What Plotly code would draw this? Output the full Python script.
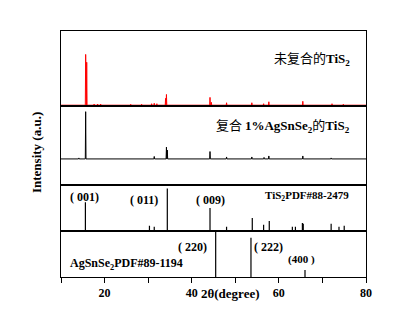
import plotly.graph_objects as go
from plotly.subplots import make_subplots

# ---- data ----
pure_pos = [15.66, 15.9, 17.6, 18.4, 19.1, 26.0, 28.5, 30.8, 31.4, 32.0, 34.0, 34.2, 44.2, 44.5, 48.0, 53.8, 56.5, 57.7, 65.5, 72.2, 74.8]
pure_int = [52, 44, 1.2, 1.2, 1.2, 1.0, 1.0, 1.5, 2.0, 1.5, 7, 11, 8, 3, 2.5, 2.5, 1.5, 3.5, 4, 1.5, 1.0]

comp_pos = [14.1, 15.66, 31.4, 34.2, 34.4, 44.2, 48.0, 53.8, 56.6, 57.7, 65.5, 72.0]
comp_int = [1.0, 48, 2.5, 12, 9, 7.5, 2, 2, 1.5, 3, 3, 1]

tis2_pos = [15.6, 30.3, 31.4, 34.4, 44.2, 48.0, 53.9, 56.5, 57.8, 63.1, 63.8, 65.4, 65.6, 72.0, 73.8, 75.0]
tis2_int = [29, 5, 4, 43, 23, 4, 13, 6, 10, 4, 4, 8, 7, 7, 4, 5]

agsnse2_pos = [45.5, 53.6, 66.0]
agsnse2_int = [47, 40, 7]

xtick_vals = [10, 20, 30, 40, 50, 60, 70, 80]
xtick_text = ["", "20", "", "40", "", "60", "", "80"]

HW = 0.08  # peak half width (deg)


def profile(pos, inten, xmin=10, xmax=80):
    pts = sorted(zip(pos, inten))
    xs, ys = [xmin], [0]
    for p, h in pts:
        xs += [p - HW, p, p + HW]
        ys += [0, h, 0]
    xs.append(xmax)
    ys.append(0)
    return xs, ys


def sticks(pos, inten):
    xs, ys = [], []
    for p, h in zip(pos, inten):
        xs += [p, p, None]
        ys += [0, h, None]
    return xs, ys


fig = make_subplots(rows=4, cols=1, shared_xaxes=True, vertical_spacing=0,
                    row_heights=[76, 80, 47, 47])

x1, y1 = profile(pure_pos, pure_int)
fig.add_trace(go.Scatter(x=x1, y=y1, mode="lines", line=dict(color="#ff0000", width=1),
                         showlegend=False), row=1, col=1)
x2, y2 = profile(comp_pos, comp_int)
fig.add_trace(go.Scatter(x=x2, y=y2, mode="lines", line=dict(color="black", width=1),
                         showlegend=False), row=2, col=1)
x3, y3 = sticks(tis2_pos, tis2_int)
fig.add_trace(go.Scatter(x=x3, y=y3, mode="lines", line=dict(color="black", width=1.2),
                         showlegend=False), row=3, col=1)
x4, y4 = sticks(agsnse2_pos, agsnse2_int)
fig.add_trace(go.Scatter(x=x4, y=y4, mode="lines", line=dict(color="black", width=1.2),
                         showlegend=False), row=4, col=1)

yranges = [[-0.6, 76], [-26, 54], [0, 47], [0, 47]]
for i in range(1, 5):
    fig.update_yaxes(range=yranges[i - 1], showticklabels=False, ticks="", showgrid=False,
                     zeroline=False, showline=True, mirror=True, linecolor="black",
                     linewidth=1, row=i, col=1)
    fig.update_xaxes(range=[10, 80], showgrid=False, zeroline=False, showline=True,
                     mirror=True, linecolor="black", linewidth=1,
                     ticks="", showticklabels=False, row=i, col=1)

fig.update_xaxes(ticks="outside", ticklen=5, tickwidth=1, tickcolor="black",
                 tickvals=xtick_vals, ticktext=xtick_text, showticklabels=True,
                 tickfont=dict(family="Liberation Serif", size=12, color="black", weight="bold"),
                 row=4, col=1)

serif = "Liberation Serif"
cjk = "Noto Sans CJK SC"
SP = '<span style="font-family:Liberation Serif">'


def py(ypx):
    return (281 - ypx) / 250.0


anns = [
    dict(x=76.9, y=py(58), xanchor="right",
         text="未复合的" + SP + "<b>TiS<sub>2</sub></b></span>",
         font=dict(family=cjk, size=13, color="black")),
    dict(x=76.9, y=py(127), xanchor="right",
         text="复合 " + SP + "<b>1%AgSnSe<sub>2</sub></b></span>的" + SP + "<b>TiS<sub>2</sub></b></span>",
         font=dict(family=cjk, size=13, color="black")),
    dict(x=15.5, y=py(200), xanchor="center", text="<b>( 001)</b>",
         font=dict(family=serif, size=12, color="black")),
    dict(x=29.0, y=py(203), xanchor="center", text="<b>( 011)</b>",
         font=dict(family=serif, size=12, color="black")),
    dict(x=44.4, y=py(203), xanchor="center", text="<b>( 009)</b>",
         font=dict(family=serif, size=12, color="black")),
    dict(x=66.5, y=py(199), xanchor="center", text="<b>TiS<sub>2</sub>PDF#88-2479</b>",
         font=dict(family=serif, size=11, color="black")),
    dict(x=40.2, y=py(251), xanchor="center", text="<b>( 220)</b>",
         font=dict(family=serif, size=12, color="black")),
    dict(x=57.6, y=py(251), xanchor="center", text="<b>( 222)</b>",
         font=dict(family=serif, size=12, color="black")),
    dict(x=65.1, y=py(263), xanchor="center", text="<b>(400 )</b>",
         font=dict(family=serif, size=11, color="black")),
    dict(x=11.5, y=py(268), xanchor="left", text="<b>AgSnSe<sub>2</sub>PDF#89-1194</b>",
         font=dict(family=serif, size=12, color="black")),
]
for a in anns:
    a.update(xref="x4", yref="paper", yanchor="middle", showarrow=False)
    fig.add_annotation(**a)

fig.add_annotation(x=(230 - 61) / 305.0, y=py(298), xref="paper", yref="paper",
                   text="<b>2θ(degree)</b>", showarrow=False, xanchor="center", yanchor="middle",
                   font=dict(family=serif, size=13, color="black"))
fig.add_annotation(x=(36 - 61) / 305.0, y=py(155), xref="paper", yref="paper",
                   text="<b>Intensity (a.u.)</b>", showarrow=False, textangle=-90,
                   xanchor="center", yanchor="middle",
                   font=dict(family=serif, size=13, color="black"))

fig.update_layout(width=407, height=312, margin=dict(l=61, r=41, t=31, b=31),
                  paper_bgcolor="white", plot_bgcolor="white", showlegend=False)

fig.write_html("out.html")
